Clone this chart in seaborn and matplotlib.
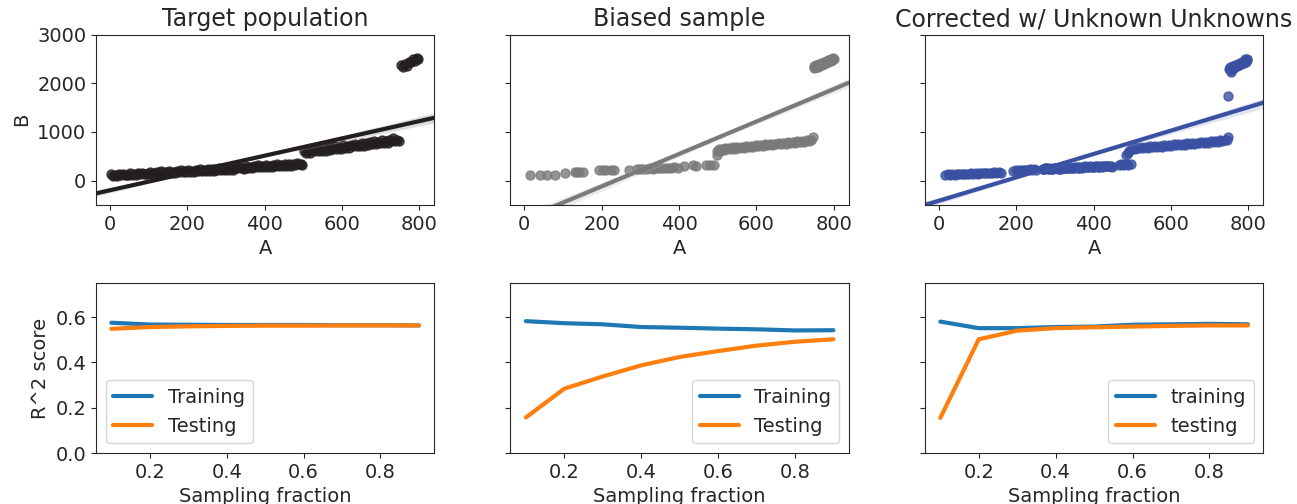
import numpy as np
import pandas as pd
import seaborn as sns
import matplotlib
matplotlib.use("Agg")
import matplotlib.pyplot as plt


# Target population (A, B)
pop_a = [3, 8, 13, 18, 23, 28, 33, 38, 43, 48,
         53, 58, 63, 68, 73, 78, 83, 88, 93, 98,
         103, 108, 113, 118, 123, 128, 133, 138, 143, 148,
         153, 158, 163, 168, 173, 178, 183, 188, 193, 198,
         203, 208, 213, 218, 223, 228, 233, 238, 243, 248,
         253, 258, 263, 268, 273, 278, 283, 288, 293, 298,
         303, 308, 313, 318, 323, 328, 333, 338, 343, 348,
         353, 358, 363, 368, 373, 378, 383, 388, 393, 398,
         403, 408, 413, 418, 423, 428, 433, 438, 443, 448,
         453, 458, 463, 468, 473, 478, 483, 488, 493, 498,
         503, 508, 513, 518, 523, 528, 533, 538, 543, 548,
         553, 558, 563, 568, 573, 578, 583, 588, 593, 598,
         603, 608, 613, 618, 623, 628, 633, 638, 643, 648,
         653, 658, 663, 668, 673, 678, 683, 688, 693, 698,
         703, 708, 713, 718, 723, 728, 733, 738, 743, 748,
         753, 758, 763, 768, 773, 778, 783, 788, 793, 798]
pop_b = [128, 90, 115, 88, 128, 108, 143, 108, 123, 105,
         149, 111, 136, 109, 149, 129, 164, 130, 144, 126,
         170, 132, 158, 131, 171, 151, 186, 152, 166, 148,
         192, 155, 180, 153, 194, 174, 209, 175, 189, 171,
         216, 178, 203, 177, 217, 198, 233, 198, 213, 195,
         240, 202, 228, 201, 242, 222, 258, 223, 238, 220,
         265, 227, 253, 226, 267, 248, 283, 249, 263, 246,
         291, 253, 279, 253, 293, 274, 310, 275, 290, 273,
         317, 280, 306, 280, 320, 301, 337, 303, 318, 300,
         345, 308, 334, 308, 349, 329, 365, 331, 346, 329,
         618, 562, 609, 566, 631, 600, 655, 600, 631, 606,
         671, 615, 662, 619, 684, 653, 708, 653, 684, 659,
         724, 668, 715, 672, 737, 706, 761, 706, 737, 712,
         777, 721, 768, 725, 790, 759, 814, 759, 790, 765,
         830, 774, 821, 778, 843, 812, 867, 812, 843, 818,
         2375, 2331, 2392, 2363, 2449, 2430, 2506, 2462, 2513, 2509]

# Biased sample (A, B)
bias_a = [14, 40, 59, 78, 106, 131, 136, 141, 152, 194,
          203, 211, 224, 232, 270, 291, 300, 308, 316, 324,
          332, 340, 348, 356, 364, 372, 380, 388, 396, 414,
          435, 443, 469, 481, 490,
          498, 499, 503, 506, 510, 515, 520, 525, 530, 535,
          540, 545, 550, 556, 562, 568, 574, 580, 586, 592,
          598, 604, 610, 616, 622, 628, 634, 640, 646, 652,
          658, 664, 670, 676, 682, 688, 694, 700, 706, 712,
          718, 724, 730, 736, 742, 746,
          748, 750, 752, 754, 756, 758, 760, 762, 764, 766,
          768, 770, 772, 774, 776, 778, 780, 782, 784, 786,
          788, 790, 792, 794, 796, 798, 800, 760, 770, 780,
          790, 775, 785, 795, 765]
bias_b = [117, 123, 117, 123, 157, 178, 172, 178, 175, 212,
          215, 212, 218, 212, 226, 240, 236, 245, 240, 249,
          245, 254, 250, 259, 255, 264, 260, 269, 265, 294,
          315, 309, 315, 329, 322,
          534, 600, 640, 612, 655, 625, 662, 640, 672, 648,
          680, 655, 690, 668, 700, 675, 710, 688, 718, 696,
          728, 705, 736, 715, 745, 722, 752, 732, 762, 742,
          772, 750, 780, 760, 790, 768, 798, 778, 808, 788,
          818, 798, 828, 812, 840, 896,
          2310, 2350, 2330, 2370, 2345, 2385, 2360, 2395, 2370, 2405,
          2385, 2420, 2395, 2435, 2410, 2445, 2425, 2460, 2440, 2475,
          2455, 2490, 2470, 2505, 2490, 2525, 2510, 2340, 2380, 2440,
          2480, 2400, 2460, 2500, 2390]

# Corrected sample (A, B)
corr_a = [17, 23, 29, 35, 41, 47, 53, 59, 65, 71,
          77, 83, 89, 95, 101, 107, 113, 119, 125, 131,
          137, 143, 149, 155, 160,
          193, 199, 205, 211, 217, 223, 229, 235, 241, 247, 252,
          269, 275, 282, 288, 295, 301, 308, 314, 321, 327,
          334, 340, 347, 353, 360, 366, 373, 379, 386, 392,
          399, 405, 412, 418, 425, 431, 438, 446,
          272, 285, 298, 311, 324, 337, 350, 363, 376, 389,
          402, 415, 428, 441,
          270, 279, 292, 304, 317, 330, 343, 356, 369, 382,
          395, 408, 421, 434, 447, 276, 289, 302, 315, 328,
          466, 471, 477, 483, 490, 496,
          484, 488, 492, 497, 501, 506, 511, 517, 523, 529,
          535, 541, 547, 553, 559, 565, 571, 577, 583, 589,
          595, 601, 607, 613, 619, 625, 631, 637, 643, 649,
          655, 661, 667, 673, 679, 685, 691, 697, 703, 709,
          715, 721, 727, 733, 739, 745, 747,
          749,
          755, 750, 752, 756, 760, 763, 766, 770, 773, 776,
          779, 782, 785, 788, 791, 794, 796, 798, 792]
corr_b = [118, 130, 121, 133, 124, 137, 127, 140, 131, 143,
          134, 147, 138, 150, 141, 154, 145, 158, 149, 162,
          153, 166, 158, 171, 165,
          200, 215, 206, 220, 210, 225, 214, 229, 218, 232, 222,
          232, 250, 238, 255, 243, 260, 247, 265, 252, 270,
          256, 274, 261, 279, 266, 284, 270, 289, 275, 293,
          280, 298, 284, 303, 289, 307, 294, 300,
          244, 237, 252, 245, 260, 253, 268, 261, 277, 270,
          286, 280, 296, 290,
          236, 252, 240, 258, 248, 267, 254, 276, 263, 285,
          271, 293, 279, 302, 288, 248, 236, 256, 244, 262,
          322, 335, 318, 330, 322, 336,
          534, 560, 600, 640, 671, 650, 680, 660, 688, 668,
          695, 676, 702, 684, 710, 692, 718, 700, 726, 708,
          734, 716, 742, 724, 750, 732, 758, 740, 766, 748,
          774, 756, 782, 764, 790, 772, 798, 780, 806, 790,
          816, 800, 826, 812, 840, 830, 896,
          1731,
          2224, 2300, 2340, 2280, 2360, 2320, 2385, 2350, 2405, 2375,
          2425, 2400, 2445, 2420, 2465, 2440, 2500, 2480, 2505]

# R^2 scores vs sampling fraction
frac = [0.1, 0.2, 0.3, 0.4, 0.5, 0.6, 0.7, 0.8, 0.9]
pop_train = [0.575, 0.567, 0.566, 0.565, 0.565, 0.565, 0.564, 0.564, 0.563]
pop_test = [0.548, 0.556, 0.559, 0.561, 0.562, 0.562, 0.563, 0.563, 0.563]
bias_train = [0.582, 0.573, 0.568, 0.556, 0.553, 0.549, 0.546, 0.541, 0.542]
bias_test = [0.157, 0.284, 0.338, 0.387, 0.424, 0.450, 0.474, 0.491, 0.502]
corr_train = [0.580, 0.551, 0.551, 0.556, 0.558, 0.566, 0.568, 0.570, 0.568]
corr_test = [0.155, 0.502, 0.540, 0.551, 0.555, 0.558, 0.561, 0.563, 0.563]


sns.set_style("ticks")
plt.rcParams['font.family'] = ['DejaVu Sans']

fig, axes = plt.subplots(2, 3, figsize=(12.97, 5.04), dpi=100)
plt.subplots_adjust(left=0.074, right=0.974, top=0.931, bottom=0.101,
                    hspace=0.46, wspace=0.225)

# Linha de cima: dispersão + regressão
top = [
    ("Target population", pop_a, pop_b, "#231f20"),
    ("Biased sample", bias_a, bias_b, "#7a7a7a"),
    ("Corrected w/ Unknown Unknowns", corr_a, corr_b, "#3a50a2"),
]
for i, (title, a, b, cor) in enumerate(top):
    ax = axes[0, i]
    ax.set_xlim(-36, 839)
    ax.set_ylim(-500, 3000)
    sns.regplot(x=np.array(a), y=np.array(b), ax=ax, color=cor, truncate=False,
                ci=68, seed=0, scatter_kws={"s": 42}, line_kws={"lw": 3})
    ax.set_title(title, fontsize=17)
    ax.set_xlabel("A", fontsize=14)
    ax.set_xticks([0, 200, 400, 600, 800])
    ax.set_yticks([0, 1000, 2000, 3000])
    ax.tick_params(labelsize=14)
    if i == 0:
        ax.set_ylabel("B", fontsize=14)
    else:
        ax.set_ylabel("")
        ax.set_yticklabels([])

# Linha de baixo: R^2 treino / teste
bottom = [
    (pop_train, pop_test, ("Training", "Testing"), "lower left"),
    (bias_train, bias_test, ("Training", "Testing"), "lower right"),
    (corr_train, corr_test, ("training", "testing"), "lower right"),
]
for i, (tr, te, nomes, loc) in enumerate(bottom):
    ax = axes[1, i]
    df = pd.DataFrame({"frac": frac, "train": tr, "test": te})
    sns.lineplot(x="frac", y="train", data=df, ax=ax, color="#1f77b4", lw=3, label=nomes[0])
    sns.lineplot(x="frac", y="test", data=df, ax=ax, color="#ff7f0e", lw=3, label=nomes[1])
    ax.set_ylim(0, 0.75)
    ax.set_yticks([0.0, 0.2, 0.4, 0.6])
    ax.set_xticks([0.2, 0.4, 0.6, 0.8])
    ax.set_xlabel("Sampling fraction", fontsize=14)
    ax.tick_params(labelsize=14)
    ax.legend(loc=loc, fontsize=14)
    if i == 0:
        ax.set_ylabel("R^2 score", fontsize=14)
    else:
        ax.set_ylabel("")
        ax.set_yticklabels([])

plt.savefig("out.png", dpi=100)
